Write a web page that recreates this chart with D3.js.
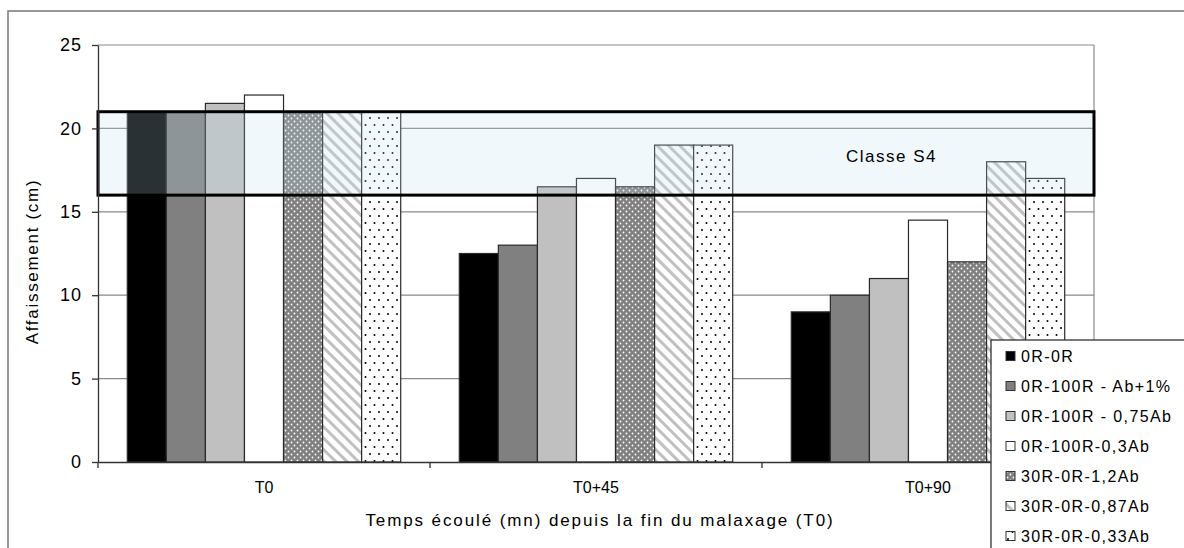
<!DOCTYPE html>
<html>
<head>
<meta charset="utf-8">
<script src="https://cdn.jsdelivr.net/npm/d3@7"></script>
<style>
  body { margin: 0; background: #fff; }
  text { font-family: "Liberation Sans", Arial, sans-serif; fill: #000; }
</style>
</head>
<body>
<div class="content"></div>
<script>
// chart data
var categories = ["T0", "T0+45", "T0+90"];
var seriesNames = ["0R-0R", "0R-100R - Ab+1%", "0R-100R - 0,75Ab", "0R-100R-0,3Ab",
  "30R-0R-1,2Ab", "30R-0R-0,87Ab", "30R-0R-0,33Ab"];
var s1 = [21, 12.5, 9];
var s2 = [21, 13, 10];
var s3 = [21.5, 16.5, 11];
var s4 = [22, 17, 14.5];
var s5 = [21, 16.5, 12];
var s6 = [21, 19, 18];
var s7 = [21, 19, 17];
var yTicks = [0, 5, 10, 15, 20, 25];
var classeS4 = [16, 21];

var allSeries = [s1, s2, s3, s4, s5, s6, s7];
var fills = ["#000000", "#808080", "#c0c0c0", "#ffffff", "url(#dotsGray)", "url(#hatch)", "url(#dotsWhite)"];

var svgWidth = 1184;
var svgHeight = 548;
var margin = { top: 45, right: 90, bottom: 86, left: 98 };
var width = svgWidth - margin.left - margin.right;
var height = svgHeight - margin.top - margin.bottom;

var svg = d3.select(".content")
  .append("svg")
  .attr("width", svgWidth)
  .attr("height", svgHeight);

// patterns
var defs = svg.append("defs");
var pg = defs.append("pattern").attr("id", "dotsGray")
  .attr("patternUnits", "userSpaceOnUse").attr("width", 6).attr("height", 6);
pg.append("rect").attr("width", 6).attr("height", 6).attr("fill", "#808080");
pg.append("circle").attr("cx", 1.5).attr("cy", 1.5).attr("r", 0.9).attr("fill", "#fff");
pg.append("circle").attr("cx", 4.5).attr("cy", 4.5).attr("r", 0.9).attr("fill", "#fff");

var pw = defs.append("pattern").attr("id", "dotsWhite")
  .attr("patternUnits", "userSpaceOnUse").attr("width", 9).attr("height", 14);
pw.append("rect").attr("width", 9).attr("height", 14).attr("fill", "#fff");
pw.append("circle").attr("cx", 2).attr("cy", 3).attr("r", 1).attr("fill", "#000");
pw.append("circle").attr("cx", 6.5).attr("cy", 10).attr("r", 1).attr("fill", "#000");

var ph = defs.append("pattern").attr("id", "hatch")
  .attr("patternUnits", "userSpaceOnUse").attr("width", 8).attr("height", 8)
  .attr("patternTransform", "rotate(-45)");
ph.append("rect").attr("width", 8).attr("height", 8).attr("fill", "#fff");
ph.append("rect").attr("width", 3).attr("height", 8).attr("fill", "#c0c0c0");

// outer border
svg.append("rect")
  .attr("x", 8).attr("y", 11)
  .attr("width", svgWidth + 20).attr("height", svgHeight + 20)
  .attr("fill", "none").attr("stroke", "#777").attr("stroke-width", 1.5);

var chartGroup = svg.append("g")
  .attr("transform", `translate(${margin.left}, ${margin.top})`);

// scales
var x0 = d3.scaleBand().domain(categories).range([0, width]).paddingInner(0).paddingOuter(0);
var x1 = d3.scaleBand().domain(d3.range(seriesNames.length))
  .range([0, x0.bandwidth()]).paddingInner(0).paddingOuter(0.75);
var yLinearScale = d3.scaleLinear().domain([0, 25]).range([height, 0]);

// gridlines
chartGroup.append("g").selectAll("line")
  .data(yTicks.filter(d => d > 0))
  .enter().append("line")
  .attr("x1", 0).attr("x2", width)
  .attr("y1", d => yLinearScale(d)).attr("y2", d => yLinearScale(d))
  .attr("stroke", "#8a8a8a").attr("stroke-width", 1.2);
chartGroup.append("line")
  .attr("x1", width).attr("x2", width)
  .attr("y1", 0).attr("y2", height)
  .attr("stroke", "#8a8a8a").attr("stroke-width", 1.2);

// bars
var groups = chartGroup.selectAll(".grp")
  .data(categories).enter().append("g")
  .attr("class", "grp")
  .attr("transform", d => `translate(${x0(d)}, 0)`);

groups.selectAll("rect")
  .data((c, ci) => allSeries.map((s, si) => ({ si: si, value: s[ci] })))
  .enter().append("rect")
  .attr("x", d => x1(d.si))
  .attr("width", x1.bandwidth())
  .attr("y", d => yLinearScale(d.value))
  .attr("height", d => height - yLinearScale(d.value))
  .attr("fill", d => fills[d.si])
  .attr("stroke", "#2a2a2a")
  .attr("stroke-width", 1.2);

// Classe S4 band
chartGroup.append("rect")
  .attr("x", 0).attr("width", width)
  .attr("y", yLinearScale(classeS4[1]))
  .attr("height", yLinearScale(classeS4[0]) - yLinearScale(classeS4[1]))
  .attr("fill", "rgba(190,225,240,0.22)")
  .attr("stroke", "#000").attr("stroke-width", 3);

chartGroup.append("text")
  .attr("x", x0("T0+90") + 84)
  .attr("y", yLinearScale(18))
  .attr("font-size", "17px")
  .attr("letter-spacing", "1.5px")
  .text("Classe S4");

// y axis
var leftAxis = d3.axisLeft(yLinearScale).tickValues(yTicks).tickSize(6).tickSizeOuter(0).tickPadding(10);
var yAxis = chartGroup.append("g").call(leftAxis);
yAxis.select(".domain").attr("stroke", "#333").attr("stroke-width", 1.3);
yAxis.selectAll(".tick line").attr("stroke", "#333").attr("stroke-width", 1.3);
yAxis.selectAll(".tick text").attr("font-size", "18px").attr("letter-spacing", "1px")
  .attr("font-family", "Liberation Sans, Arial, sans-serif");

// x axis
var bottomAxis = d3.axisBottom(x0).tickSize(0).tickPadding(20);
var xAxis = chartGroup.append("g")
  .attr("transform", `translate(0, ${height})`)
  .call(bottomAxis);
xAxis.select(".domain").attr("stroke", "#333").attr("stroke-width", 1.3);
xAxis.selectAll(".tick text").attr("font-size", "16px").attr("font-family", "Liberation Sans, Arial, sans-serif");
xAxis.selectAll(".bound")
  .data(d3.range(categories.length + 1))
  .enter().append("line")
  .attr("x1", i => i * x0.step()).attr("x2", i => i * x0.step())
  .attr("y1", 0).attr("y2", 6)
  .attr("stroke", "#333").attr("stroke-width", 1.3);

// axis titles
chartGroup.append("text")
  .attr("transform", "rotate(-90)")
  .attr("x", -(height / 2) - 8)
  .attr("y", -margin.left + 38)
  .attr("text-anchor", "middle")
  .attr("font-size", "17px")
  .attr("letter-spacing", "1.7px")
  .text("Affaissement (cm)");

chartGroup.append("text")
  .attr("x", width / 2 + 4)
  .attr("y", height + 64)
  .attr("text-anchor", "middle")
  .attr("font-size", "17px")
  .attr("letter-spacing", "1.9px")
  .text("Temps écoulé (mn) depuis la fin du malaxage (T0)");

// legend
var legend = svg.append("g").attr("transform", "translate(991, 340)");
legend.append("rect")
  .attr("width", 230).attr("height", 240)
  .attr("fill", "#fff").attr("stroke", "#333").attr("stroke-width", 1.3);
var items = legend.selectAll(".item")
  .data(seriesNames).enter().append("g")
  .attr("transform", (d, i) => `translate(15, ${16 + i * 30})`);
items.append("rect")
  .attr("x", 0).attr("y", -4.5).attr("width", 9).attr("height", 9)
  .attr("fill", (d, i) => fills[i])
  .attr("stroke", "#333").attr("stroke-width", 1);
items.append("text")
  .attr("x", 15).attr("y", 0)
  .attr("dy", "0.35em")
  .attr("font-size", "16px")
  .attr("letter-spacing", "1.4px")
  .text(d => d);
</script>
</body>
</html>
